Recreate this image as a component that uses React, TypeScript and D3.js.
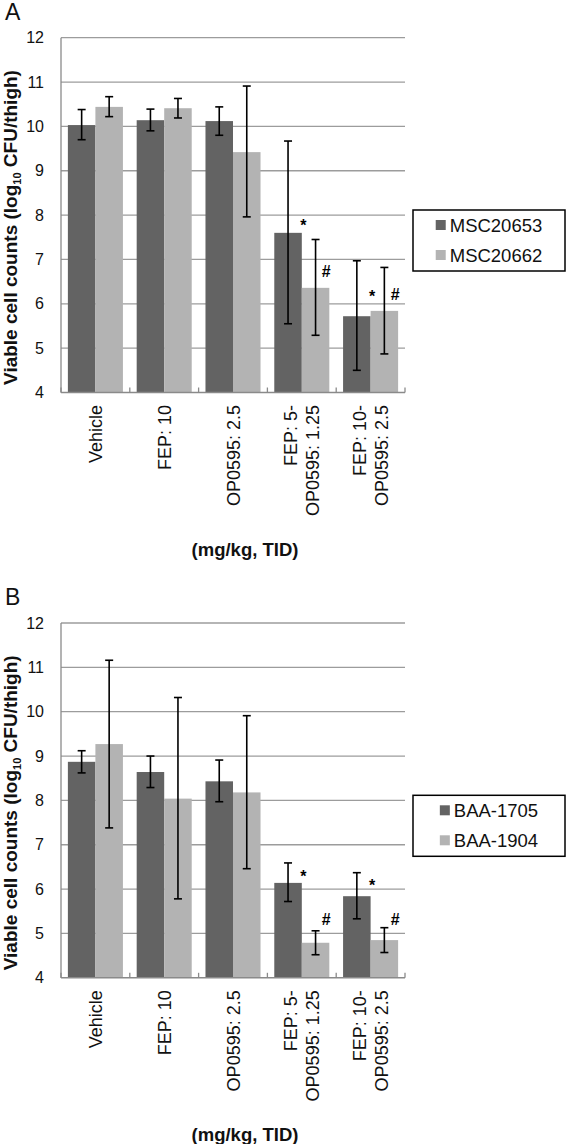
import React from "react";
import * as d3 from "d3";

// ---------- data ----------
const categories: string[][] = [
  ["Vehicle"],
  ["FEP: 10"],
  ["OP0595: 2.5"],
  ["FEP: 5-", "OP0595: 1.25"],
  ["FEP: 10-", "OP0595: 2.5"],
];
const yTicks = [4, 5, 6, 7, 8, 9, 10, 11, 12];
const xAxisTitle = "(mg/kg, TID)";

// Panel A
const seriesA = ["MSC20653", "MSC20662"];
const a1Mean = [10.03, 10.14, 10.12, 7.6, 5.72];
const a1Hi = [10.38, 10.39, 10.44, 9.67, 6.97];
const a1Lo = [9.7, 9.9, 9.8, 5.55, 4.5];
const a2Mean = [10.44, 10.41, 9.42, 6.36, 5.84];
const a2Hi = [10.67, 10.63, 10.91, 7.45, 6.82];
const a2Lo = [10.22, 10.19, 7.96, 5.29, 4.87];
const markersA = [
  { cat: 3, series: 0, symbol: "*", value: 7.64 },
  { cat: 3, series: 1, symbol: "#", value: 6.6 },
  { cat: 4, series: 0, symbol: "*", value: 6.04 },
  { cat: 4, series: 1, symbol: "#", value: 6.08 },
];

// Panel B
const seriesB = ["BAA-1705", "BAA-1904"];
const b1Mean = [8.87, 8.64, 8.43, 6.14, 5.84];
const b1Hi = [9.12, 9.0, 8.91, 6.59, 6.37];
const b1Lo = [8.62, 8.29, 7.97, 5.72, 5.33];
const b2Mean = [9.27, 8.04, 8.18, 4.79, 4.85];
const b2Hi = [11.16, 10.32, 9.91, 5.06, 5.13];
const b2Lo = [7.38, 5.78, 6.46, 4.52, 4.57];
const markersB = [
  { cat: 3, series: 0, symbol: "*", value: 6.17 },
  { cat: 3, series: 1, symbol: "#", value: 5.19 },
  { cat: 4, series: 0, symbol: "*", value: 5.96 },
  { cat: 4, series: 1, symbol: "#", value: 5.19 },
];

// ---------- style ----------
const FONT = "'Liberation Sans', Arial, Helvetica, sans-serif";
const COLORS = ["#636363", "#b3b3b3"];
const GRID = "#9c9c9c";
const AXIS = "#8a8a8a";

function measure(text: string, font: string): number {
  if (typeof document === "undefined") return text.length * 10;
  const c = document.createElement("canvas").getContext("2d");
  if (!c) return text.length * 10;
  c.font = font;
  return c.measureText(text).width;
}

type Marker = { cat: number; series: number; symbol: string; value: number };

function Panel(props: {
  offset: number;
  letter: string;
  names: string[];
  means: number[][];
  his: number[][];
  los: number[][];
  markers: Marker[];
}) {
  const { offset, letter, names, means, his, los, markers } = props;
  const left = 61;
  const right = 405;
  const y = d3.scaleLinear().domain([4, 12]).range([392.5 + offset, 37.7 + offset]);
  const x0 = d3
    .scaleBand<number>()
    .domain(d3.range(categories.length))
    .range([left, right])
    .paddingInner(0.2)
    .paddingOuter(0.1);
  const x1 = d3.scaleBand<number>().domain(d3.range(names.length)).range([0, x0.bandwidth()]);
  const step = x0.step();
  const bw = x1.bandwidth();
  const base = y(4);

  // legend
  const lgX = 413;
  const lgY = 210 + offset;
  const lgW = 152;
  const lgH = 61;
  const lgFont = `18.5px ${FONT}`;
  const sw = 10;
  const tw = d3.max(names, (n) => measure(n, lgFont)) || 90;
  const contentW = sw + 4 + tw;
  const lgStart = lgX + lgW / 2 - contentW / 2;

  return (
    <g>
      <text x={5} y={20 + offset} fontFamily={FONT} fontSize={23} fill="#111">
        {letter}
      </text>

      {/* gridlines */}
      {yTicks.slice(1).map((t) => (
        <line key={"g" + t} x1={left} x2={right} y1={y(t)} y2={y(t)} stroke={GRID} strokeWidth={1.3} />
      ))}

      {/* bars */}
      {categories.map((_, ci) =>
        names.map((_, si) => (
          <rect
            key={`b${ci}-${si}`}
            x={(x0(ci) as number) + (x1(si) as number)}
            y={y(means[si][ci])}
            width={bw}
            height={base - y(means[si][ci])}
            fill={COLORS[si]}
          />
        ))
      )}

      {/* axes */}
      <line x1={left} x2={left} y1={y(12)} y2={base} stroke={AXIS} strokeWidth={1.3} />
      <line x1={left} x2={right} y1={base} y2={base} stroke={AXIS} strokeWidth={1.6} />
      {d3.range(categories.length + 1).map((i) => (
        <line
          key={"t" + i}
          x1={left + i * step}
          x2={left + i * step}
          y1={base}
          y2={base - 5}
          stroke={AXIS}
          strokeWidth={1.3}
        />
      ))}

      {/* error bars */}
      {categories.map((_, ci) =>
        names.map((_, si) => {
          const cx = (x0(ci) as number) + (x1(si) as number) + bw / 2;
          const yh = y(his[si][ci]);
          const yl = y(los[si][ci]);
          return (
            <g key={`e${ci}-${si}`} stroke="#000" strokeWidth={1.6}>
              <line x1={cx} x2={cx} y1={yh} y2={yl} />
              <line x1={cx - 4} x2={cx + 4} y1={yh} y2={yh} />
              <line x1={cx - 4} x2={cx + 4} y1={yl} y2={yl} />
            </g>
          );
        })
      )}

      {/* significance markers */}
      {markers.map((m, i) => {
        const xr = (x0(m.cat) as number) + (x1(m.series) as number) + bw;
        return (
          <text
            key={"m" + i}
            x={xr + (m.series === 0 ? 1.5 : -3)}
            y={y(m.value)}
            textAnchor="middle"
            fontFamily={FONT}
            fontSize={16}
            fontWeight="bold"
            fill="#000"
          >
            {m.symbol}
          </text>
        );
      })}

      {/* y tick labels */}
      {yTicks.map((t) => (
        <text
          key={"yl" + t}
          x={44}
          y={y(t)}
          textAnchor="end"
          dominantBaseline="central"
          fontFamily={FONT}
          fontSize={16}
          fill="#111"
        >
          {t}
        </text>
      ))}

      {/* y axis title */}
      <text
        transform={`translate(16.5,${227.5 + offset}) rotate(-90)`}
        textAnchor="middle"
        fontFamily={FONT}
        fontSize={19}
        fontWeight="bold"
        fill="#111"
      >
        <tspan>Viable cell counts (log</tspan>
        <tspan fontSize={11} dy={4}>
          10
        </tspan>
        <tspan dy={-4}> CFU/thigh)</tspan>
      </text>

      {/* x category labels */}
      {categories.map((lines, ci) => {
        const cx = (x0(ci) as number) + x0.bandwidth() / 2;
        const n = lines.length;
        return lines.map((ln, li) => {
          const lineCenter = cx + (li - (n - 1) / 2) * 22;
          const bx = lineCenter + 6.5;
          const by = base + 12.5;
          return (
            <text
              key={`xl${ci}-${li}`}
              transform={`translate(${bx},${by}) rotate(-90)`}
              textAnchor="end"
              fontFamily={FONT}
              fontSize={18}
              fill="#111"
            >
              {ln}
            </text>
          );
        });
      })}

      {/* x axis title */}
      <text
        x={245}
        y={555.7 + offset}
        textAnchor="middle"
        fontFamily={FONT}
        fontSize={18.5}
        fontWeight="bold"
        fill="#111"
      >
        {xAxisTitle}
      </text>

      {/* legend */}
      <rect x={lgX} y={lgY} width={lgW} height={lgH} fill="#fff" stroke="#000" strokeWidth={1.5} />
      {names.map((n, si) => {
        const cy = lgY + 15 + si * 30;
        return (
          <g key={"lg" + si}>
            <rect x={lgStart} y={cy - sw / 2} width={sw} height={sw} fill={COLORS[si]} />
            <text
              x={lgStart + sw + 4}
              y={cy}
              dominantBaseline="central"
              fontFamily={FONT}
              fontSize={18.5}
              fill="#111"
            >
              {n}
            </text>
          </g>
        );
      })}
    </g>
  );
}

export default function App() {
  return (
    <svg
      width={566}
      height={1144}
      viewBox="0 0 566 1144"
      style={{ position: "absolute", left: 0, top: 0, background: "#fff" }}
    >
      <rect x={0} y={0} width={566} height={1144} fill="#fff" />
      <Panel
        offset={0}
        letter="A"
        names={seriesA}
        means={[a1Mean, a2Mean]}
        his={[a1Hi, a2Hi]}
        los={[a1Lo, a2Lo]}
        markers={markersA}
      />
      <Panel
        offset={585.3}
        letter="B"
        names={seriesB}
        means={[b1Mean, b2Mean]}
        his={[b1Hi, b2Hi]}
        los={[b1Lo, b2Lo]}
        markers={markersB}
      />
    </svg>
  );
}
